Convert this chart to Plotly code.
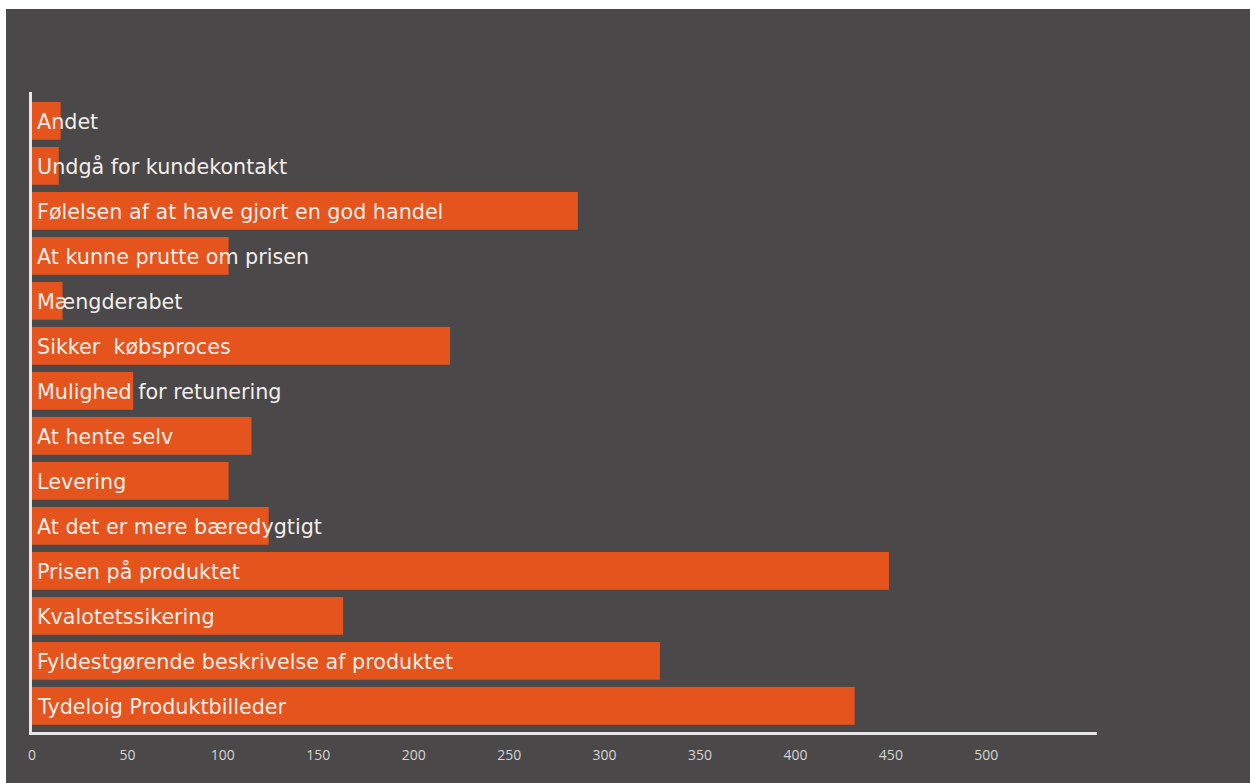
import plotly.graph_objects as go

categories = [
    "Andet",
    "Undgå for kundekontakt",
    "Følelsen af at have gjort en god handel",
    "At kunne prutte om prisen",
    "Mængderabet",
    "Sikker  købsproces",
    "Mulighed for retunering",
    "At hente selv",
    "Levering",
    "At det er mere bæredygtigt",
    "Prisen på produktet",
    "Kvalotetssikering",
    "Fyldestgørende beskrivelse af produktet",
    "Tydeloig Produktbilleder",
]
values = [15, 14, 286, 103, 16, 219, 53, 115, 103, 124, 449, 163, 329, 431]
tick_values = [0, 50, 100, 150, 200, 250, 300, 350, 400, 450, 500]

BG = "#4a4849"
ORANGE = "#e6541d"

fig = go.Figure()
fig.add_trace(go.Bar(
    x=values, y=categories, orientation="h",
    marker=dict(color=ORANGE, line=dict(width=0)),
    hoverinfo="x+y",
))

annotations = [
    dict(x=0, y=cat, xref="x", yref="y", text=cat, showarrow=False,
         xanchor="left", yanchor="middle", xshift=3, yshift=-1,
         font=dict(family="DejaVu Sans", size=20.7, color="#f3eee9"))
    for cat in categories
]

fig.update_layout(
    width=1250, height=783,
    paper_bgcolor="white",
    plot_bgcolor=BG,
    showlegend=False,
    bargap=0.16,
    margin=dict(l=32, r=153, t=92, b=51),
    annotations=annotations,
    xaxis=dict(
        range=[0, 558], tickvals=tick_values,
        showgrid=False, zeroline=False,
        showline=True, linecolor="#e6e6e6", linewidth=3,
        tickfont=dict(family="Open Sans", size=14, color="#d4d4d4"),
        ticks="", ticklabelstandoff=8,
    ),
    yaxis=dict(
        categoryorder="array", categoryarray=categories[::-1],
        range=[-0.58, 13.64],
        showgrid=False, zeroline=False,
        showline=True, linecolor="#e6e6e6", linewidth=3,
        showticklabels=False, ticks="",
    ),
    shapes=[dict(
        type="rect", xref="paper", yref="paper", layer="below",
        x0=(6 - 32) / 1065, x1=(1250 - 32) / 1065 + 0.01,
        y0=-(51 + 5) / 640, y1=(732 - 9) / 640,
        fillcolor=BG, line=dict(width=0),
    )],
)

fig.write_html("out.html")
